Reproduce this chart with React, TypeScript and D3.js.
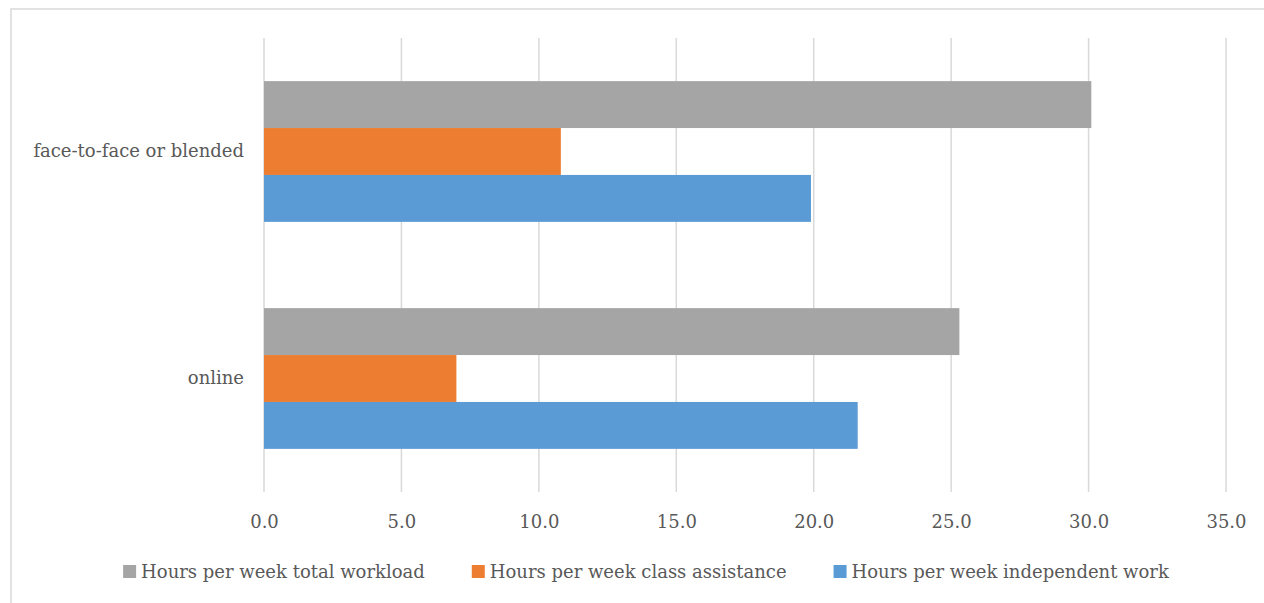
import React, { useEffect, useRef } from 'react';
import * as d3 from 'd3';

const categories = ['face-to-face or blended', 'online'];
const seriesNames = [
  'Hours per week total workload',
  'Hours per week class assistance',
  'Hours per week independent work'
];
const seriesColors = ['#a5a5a5', '#ed7d31', '#5b9bd5'];
const totalWorkload = [30.1, 25.3];
const classAssistance = [10.8, 7.0];
const independentWork = [19.9, 21.6];
const xTicks = [0, 5, 10, 15, 20, 25, 30, 35];

const App = () => {
  const ref = useRef<SVGSVGElement>(null);

  useEffect(() => {
    const svg = d3.select(ref.current);
    svg.selectAll('*').remove();

    const width = 1264;
    const height = 603;
    const margin = { top: 38, right: 38, bottom: 111, left: 264 };
    const font = "'DejaVu Serif', serif";
    const fontSize = '18px';
    const textColor = '#595959';

    const values = [totalWorkload, classAssistance, independentWork];

    // chart frame, cut off at right and bottom like the source
    svg
      .append('rect')
      .attr('x', 11)
      .attr('y', 9)
      .attr('width', 1400)
      .attr('height', 800)
      .attr('fill', 'white')
      .attr('stroke', '#d9d9d9')
      .attr('stroke-width', 1.5);

    const x = d3.scaleLinear().domain([0, 35]).range([margin.left, width - margin.right]);

    const y0 = d3
      .scaleBand<string>()
      .domain(categories)
      .range([margin.top, height - margin.bottom])
      .paddingInner(0.38)
      .paddingOuter(0.19);

    const y1 = d3
      .scaleBand<string>()
      .domain(seriesNames)
      .range([0, y0.bandwidth()]);

    // gridlines
    svg
      .append('g')
      .selectAll('line')
      .data(xTicks)
      .enter()
      .append('line')
      .attr('x1', (d) => x(d))
      .attr('x2', (d) => x(d))
      .attr('y1', margin.top)
      .attr('y2', height - margin.bottom)
      .attr('stroke', '#d9d9d9')
      .attr('stroke-width', 1.5);

    // bars
    const group = svg
      .append('g')
      .selectAll('g')
      .data(categories)
      .enter()
      .append('g')
      .attr('transform', (d) => `translate(0,${y0(d)})`);

    group
      .selectAll('rect')
      .data((d, ci) => seriesNames.map((s, si) => ({ s, si, v: values[si][ci] })))
      .enter()
      .append('rect')
      .attr('x', x(0))
      .attr('y', (d) => y1(d.s) as number)
      .attr('width', (d) => x(d.v) - x(0))
      .attr('height', y1.bandwidth())
      .attr('fill', (d) => seriesColors[d.si]);

    // x axis labels
    const xAxis = d3
      .axisBottom(x)
      .tickValues(xTicks)
      .tickSize(0)
      .tickPadding(0)
      .tickFormat((d) => d3.format('.1f')(d as number));
    svg
      .append('g')
      .attr('transform', `translate(0,${height - margin.bottom})`)
      .call(xAxis)
      .attr('font-family', null)
      .attr('font-size', null)
      .call((g) => g.select('.domain').remove())
      .call((g) =>
        g
          .selectAll('text')
          .attr('y', 36)
          .attr('dy', null)
          .attr('fill', textColor)
          .attr('font-family', font)
          .attr('font-size', fontSize)
      );

    // category labels
    const yAxis = d3.axisLeft(y0).tickSize(0).tickPadding(20);
    svg
      .append('g')
      .attr('transform', `translate(${margin.left},0)`)
      .call(yAxis)
      .attr('font-family', null)
      .attr('font-size', null)
      .call((g) => g.select('.domain').remove())
      .call((g) =>
        g
          .selectAll('text')
          .attr('fill', textColor)
          .attr('font-family', font)
          .attr('font-size', fontSize)
      );

    // legend
    const legend = svg.append('g');
    const items = legend
      .selectAll('g')
      .data(seriesNames)
      .enter()
      .append('g');
    items
      .append('rect')
      .attr('width', 13)
      .attr('height', 13)
      .attr('y', -13)
      .attr('fill', (d, i) => seriesColors[i]);
    items
      .append('text')
      .text((d) => d)
      .attr('x', 18)
      .attr('fill', textColor)
      .attr('font-family', font)
      .attr('font-size', fontSize);

    let offset = 0;
    items.each(function () {
      const t = d3.select(this).select('text').node() as SVGTextElement;
      const w = 18 + t.getComputedTextLength();
      d3.select(this).attr('transform', `translate(${offset},0)`);
      offset += w + 47;
    });
    const total = offset - 47;
    legend.attr('transform', `translate(${646 - total / 2},578)`);
  }, []);

  return (
    <svg
      ref={ref}
      width={1264}
      height={603}
      style={{ position: 'absolute', left: 0, top: 0, background: 'white' }}
    />
  );
};

export default App;
